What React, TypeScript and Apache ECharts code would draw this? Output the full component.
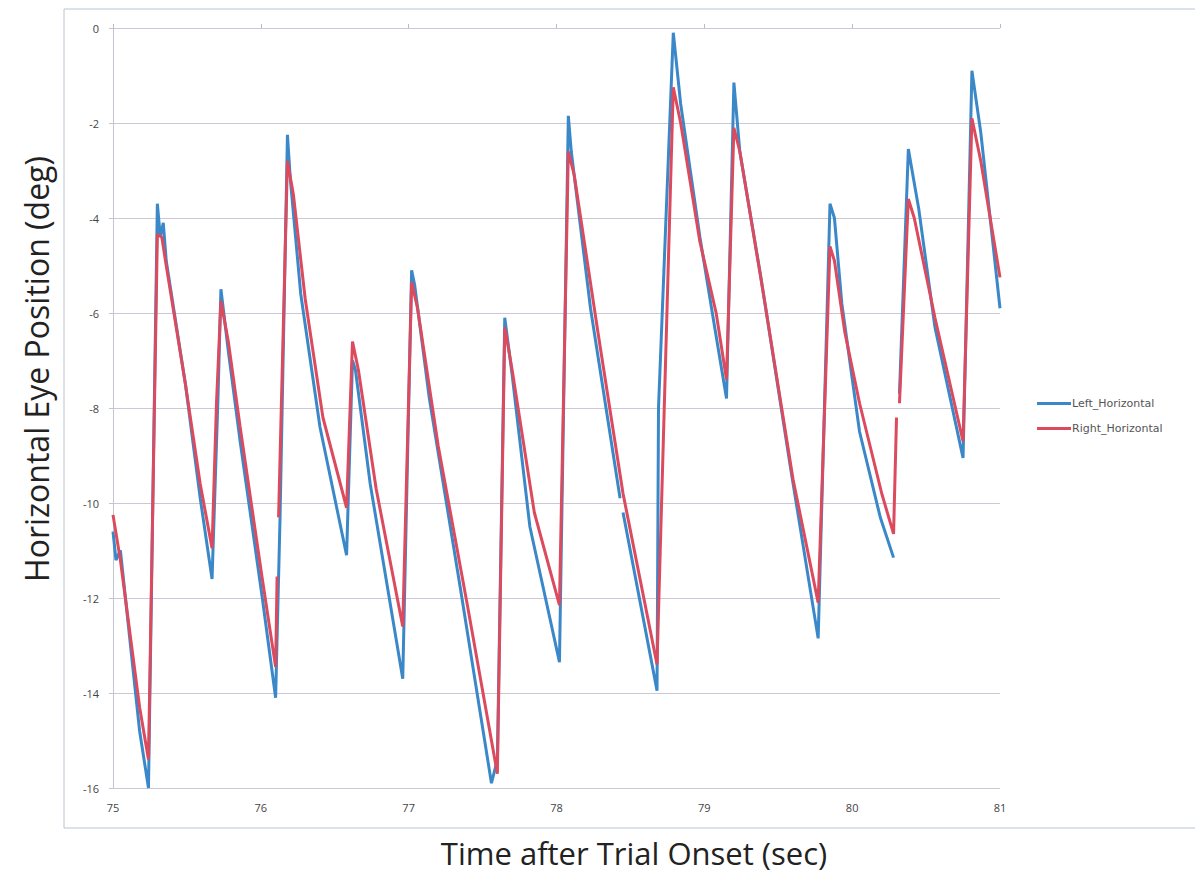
import React, { useEffect, useRef } from "react";
import * as echarts from "echarts";

const leftTime = [
  75.0, 75.02, 75.05, 75.18, 75.24, 75.3, 75.32, 75.34, 75.36, 75.49, 75.59, 75.67, 75.71, 75.73, 75.78, 75.86,
  76.01, 76.1, 76.13, 76.18, 76.2, 76.27, 76.4, 76.58, 76.62, 76.64, 76.74, 76.96, 77.02, 77.04, 77.14, 77.35,
  77.56, 77.6, 77.65, 77.7, 77.82, 78.02, 78.08, 78.1, 78.23, 78.43, 78.44, 78.45, 78.68, 78.69, 78.79, 78.84,
  78.97, 79.07, 79.15, 79.2, 79.24, 79.38, 79.58, 79.77, 79.85, 79.88, 79.93, 80.05, 80.19, 80.28, 80.3, 80.32,
  80.38, 80.45, 80.56, 80.75, 80.81, 80.87, 81.0,
];
const leftValues = [
  -10.6, -11.2, -11.0, -14.8, -16.0, -3.7, -4.4, -4.1, -4.9, -7.5, -9.9, -11.6, -7.8, -5.5, -6.8, -8.7,
  -12.0, -14.1, -10.3, -2.25, -3.2, -5.6, -8.4, -11.1, -7.0, -7.2, -9.6, -13.7, -5.1, -5.4, -7.8, -11.8,
  -15.9, -15.4, -6.1, -7.3, -10.5, -13.35, -1.85, -2.6, -5.9, -9.9, null, -10.2, -13.95, -8.0, -0.1, -1.6,
  -4.4, -6.3, -7.8, -1.15, -2.6, -5.2, -9.2, -12.85, -3.7, -4.0, -5.8, -8.5, -10.3, -11.15, null, -7.7,
  -2.55, -3.8, -6.3, -9.05, -0.9, -2.2, -5.9,
];

const rightTime = [
  75.0, 75.05, 75.18, 75.24, 75.3, 75.33, 75.36, 75.49, 75.59, 75.67, 75.7, 75.73, 75.78, 75.86, 76.01, 76.1,
  76.11, 76.115, 76.12, 76.18, 76.22, 76.3, 76.42, 76.58, 76.62, 76.66, 76.78, 76.96, 77.02, 77.06, 77.2, 77.4,
  77.6, 77.65, 77.7, 77.85, 78.02, 78.08, 78.12, 78.28, 78.45, 78.68, 78.79, 78.84, 78.97, 79.08, 79.15, 79.2,
  79.24, 79.4, 79.6, 79.77, 79.85, 79.88, 79.95, 80.05, 80.2, 80.28, 80.3, 80.31, 80.32, 80.38, 80.42, 80.56,
  80.75, 80.81, 80.87, 81.0,
];
const rightValues = [
  -10.25, -11.2, -14.3, -15.4, -4.35, -4.4, -5.0, -7.5, -9.6, -10.95, -7.9, -5.75, -6.6, -8.4, -11.6, -13.45,
  -11.55, null, -10.3, -2.8, -3.5, -5.7, -8.2, -10.1, -6.6, -7.2, -9.7, -12.6, -5.35, -5.9, -8.8, -12.2,
  -15.7, -6.3, -7.2, -10.2, -12.15, -2.6, -3.1, -6.4, -9.8, -13.4, -1.25, -2.0, -4.5, -6.0, -7.4, -2.1,
  -2.6, -5.6, -9.5, -12.1, -4.6, -4.9, -6.4, -7.9, -9.8, -10.65, -8.2, null, -7.9, -3.6, -4.0, -6.1,
  -8.7, -1.9, -2.8, -5.25,
];

const yTicks = [0, -2, -4, -6, -8, -10, -12, -14, -16];
const xTicks = [75, 76, 77, 78, 79, 80, 81];

const toPairs = (ts: number[], vs: (number | null)[]) =>
  ts.map((t, i) => [t, vs[i] === null ? "-" : vs[i]]);

export default function App() {
  const ref = useRef<HTMLDivElement>(null);
  useEffect(() => {
    document.body.style.margin = "0";
    const chart = echarts.init(ref.current!, null, { renderer: "svg" });
    const font = "'Open Sans', 'DejaVu Sans', sans-serif";
    chart.setOption({
      animation: false,
      backgroundColor: "#ffffff",
      grid: { left: 113, right: 195, top: 28, bottom: 86, containLabel: false },
      xAxis: [
        {
          type: "value",
          min: xTicks[0],
          max: xTicks[xTicks.length - 1],
          interval: 1,
          position: "bottom",
          axisLine: { show: false },
          axisTick: { show: false },
          splitLine: { show: false },
          axisLabel: { color: "#444", fontSize: 11, fontFamily: font, margin: 14 },
        },
        {
          type: "value",
          min: xTicks[0],
          max: xTicks[xTicks.length - 1],
          interval: 1,
          position: "top",
          axisLine: { show: false },
          axisTick: { show: true, length: 4, inside: false, lineStyle: { color: "#b8b8c8" } },
          splitLine: { show: false },
          axisLabel: { show: false },
        },
      ],
      yAxis: {
        type: "value",
        min: yTicks[yTicks.length - 1],
        max: yTicks[0],
        interval: 2,
        axisLine: { show: true, lineStyle: { color: "#c4c4d0" } },
        axisTick: { show: true, length: 4, lineStyle: { color: "#c4c4d0" } },
        splitLine: { show: true, lineStyle: { color: "#cdc8d8", width: 1 } },
        axisLabel: { color: "#444", fontSize: 11, fontFamily: font, margin: 14 },
      },
      legend: {
        orient: "vertical",
        left: 1032,
        top: 393,
        itemWidth: 34,
        itemHeight: 3,
        itemGap: 14,
        icon: "rect",
        textStyle: { color: "#555", fontSize: 11, fontFamily: "'DejaVu Sans', sans-serif", padding: [0, 0, 0, -4] },
        data: ["Left_Horizontal", "Right_Horizontal"],
      },
      graphic: [
        {
          type: "rect",
          shape: { x: 64, y: 9, width: 1140, height: 819 },
          style: { fill: "none", stroke: "#b6c4d4", lineWidth: 1 },
          silent: true,
        },
        {
          type: "text",
          x: 36,
          y: 369,
          rotation: Math.PI / 2,
          style: {
            text: "Horizontal Eye Position (deg)",
            fontSize: 32,
            fontFamily: font,
            fill: "#222",
            align: "center",
            verticalAlign: "middle",
          },
        },
        {
          type: "text",
          x: 634,
          y: 853,
          style: {
            text: "Time after Trial Onset (sec)",
            fontSize: 31,
            fontFamily: font,
            fill: "#222",
            align: "center",
            verticalAlign: "middle",
          },
        },
      ],
      series: [
        {
          name: "Left_Horizontal",
          type: "line",
          showSymbol: false,
          connectNulls: false,
          data: toPairs(leftTime, leftValues),
          lineStyle: { color: "#3b88c9", width: 3 },
          itemStyle: { color: "#3b88c9" },
        },
        {
          name: "Right_Horizontal",
          type: "line",
          showSymbol: false,
          connectNulls: false,
          data: toPairs(rightTime, rightValues),
          lineStyle: { color: "#dc4a5e", width: 3 },
          itemStyle: { color: "#dc4a5e" },
        },
      ],
    });
    return () => chart.dispose();
  }, []);
  return (
    <div
      ref={ref}
      style={{ position: "fixed", left: 0, top: 0, width: 1195, height: 874 }}
    />
  );
}
